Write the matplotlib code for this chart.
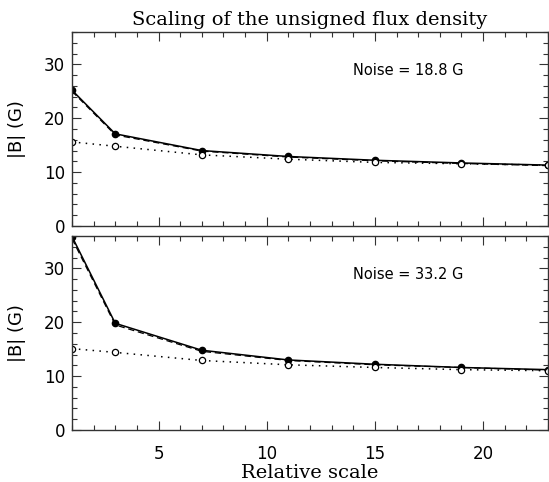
import matplotlib
matplotlib.use("Agg")
import matplotlib.pyplot as plt
from matplotlib.ticker import MultipleLocator

scale = [1, 3, 7, 11, 15, 19, 23]

top_solid = [25.2, 17.1, 14.0, 12.9, 12.2, 11.7, 11.3]
top_dashed = [25.0, 16.9, 13.9, 12.8, 12.1, 11.6, 11.2]
top_dotted = [15.6, 14.8, 13.2, 12.4, 11.8, 11.55, 11.3]

bot_solid = [35.9, 19.8, 14.8, 13.0, 12.2, 11.6, 11.2]
bot_dashed = [35.5, 19.5, 14.6, 12.9, 12.1, 11.6, 11.1]
bot_dotted = [15.1, 14.4, 12.9, 12.1, 11.6, 11.2, 11.0]

noise_labels = ["Noise = 18.8 G", "Noise = 33.2 G"]

W, H = 549, 482
fig = plt.figure(figsize=(W/100, H/100), dpi=100)
ax1 = fig.add_axes([72/W, 1-226/H, 476/W, 194/H])
ax2 = fig.add_axes([72/W, 1-430/H, 476/W, 194/H])

for ax, solid, dashed, dotted, lab in [
    (ax1, top_solid, top_dashed, top_dotted, noise_labels[0]),
    (ax2, bot_solid, bot_dashed, bot_dotted, noise_labels[1]),
]:
    ax.plot(scale, dashed, color='black', lw=0.9, ls=(0, (5, 3)))
    ax.plot(scale, solid, color='black', lw=1.1, marker='o', ms=4.5,
            markerfacecolor='black')
    ax.plot(scale, dotted, color='black', lw=1.1, ls=(0, (1, 3.5)), marker='o',
            ms=4.5, markerfacecolor='white', markeredgewidth=0.9)
    ax.set_xlim(1, 23)
    ax.set_ylim(0, 36)
    ax.xaxis.set_major_locator(MultipleLocator(5))
    ax.xaxis.set_minor_locator(MultipleLocator(1))
    ax.yaxis.set_major_locator(MultipleLocator(10))
    ax.yaxis.set_minor_locator(MultipleLocator(2))
    ax.tick_params(which='both', direction='in', top=True, right=True,
                   labelsize=12, color='#333333')
    ax.tick_params(which='major', length=6.5, width=0.8)
    ax.tick_params(which='minor', length=3.3, width=0.8)
    ax.tick_params(axis='y', pad=5)
    ax.tick_params(axis='x', pad=11)
    ax.set_ylabel("|B| (G)", fontsize=13)
    ax.yaxis.set_label_coords(-0.097, 0.5)
    for sp in ax.spines.values():
        sp.set_linewidth(1.0)
        sp.set_color('#333333')
    ax.text(14.0, 28.8, lab, fontsize=10.5, va='center', ha='left',
            family='DejaVu Sans')

ax1.tick_params(labelbottom=False)
ax1.set_title("Scaling of the unsigned flux density", fontsize=14,
              family='DejaVu Serif', pad=5)
ax2.set_xlabel("Relative scale", fontsize=14, family='DejaVu Serif')
ax2.xaxis.set_label_coords(0.5, -0.175)

fig.savefig("out.png", dpi=100)
